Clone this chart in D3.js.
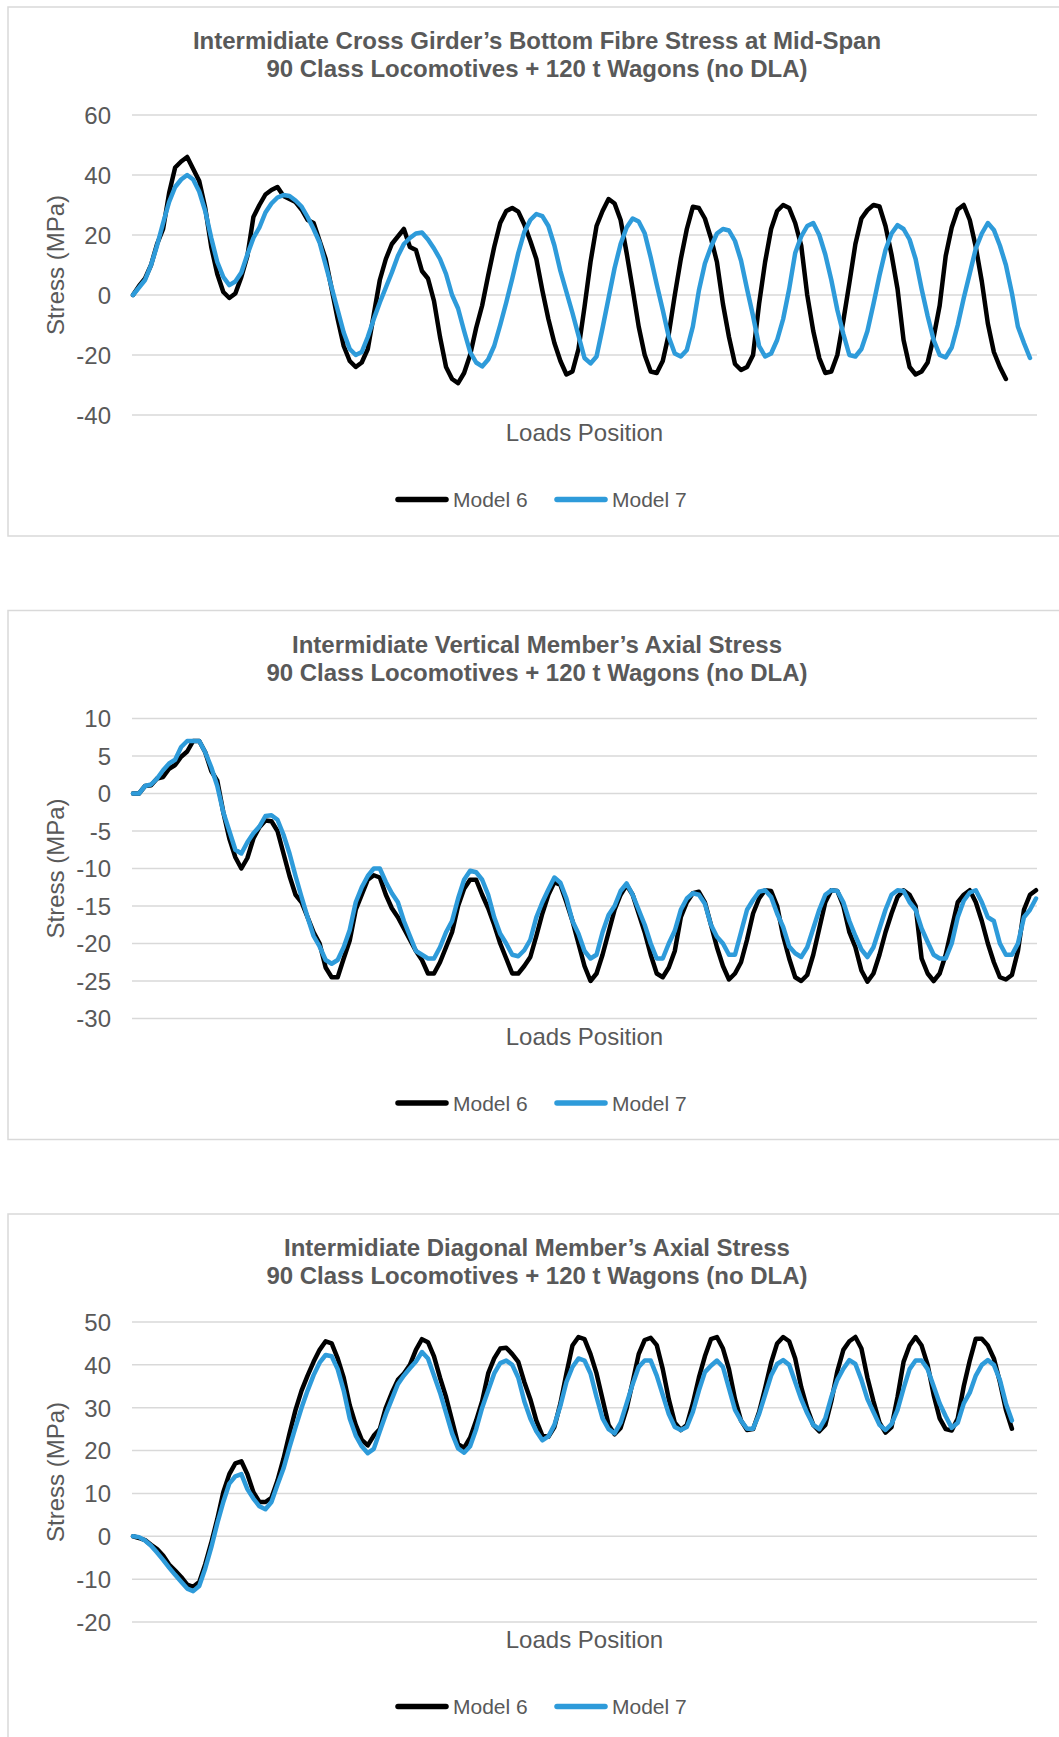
<!DOCTYPE html>
<html>
<head>
<meta charset="utf-8">
<script src="https://cdn.jsdelivr.net/npm/d3@7"></script>
<style>
  html, body { margin: 0; padding: 0; background: #ffffff; }
  svg { display: block; }
  text { font-family: "Liberation Sans", Arial, sans-serif; fill: #595959; }
</style>
</head>
<body>
<svg id="chart" width="1059" height="1737"></svg>
<script>
// ---------------- DATA ----------------
const seriesNames = ["Model 6", "Model 7"];
const xAxisTitle = "Loads Position";
const yAxisTitle = "Stress (MPa)";
const subtitle = "90 Class Locomotives + 120 t Wagons (no DLA)";
const chartTitles = [
  "Intermidiate Cross Girder\u2019s Bottom Fibre Stress at Mid-Span",
  "Intermidiate Vertical Member\u2019s Axial Stress",
  "Intermidiate Diagonal Member\u2019s Axial Stress"
];
const loadPositionCount = 150;

const yTicksGirder = [60, 40, 20, 0, -20, -40];
const yTicksVertical = [10, 5, 0, -5, -10, -15, -20, -25, -30];
const yTicksDiagonal = [50, 40, 30, 20, 10, 0, -10, -20];

// Chart 1 : cross girder bottom fibre stress (MPa)
const girderModel6 = [
  0, 3, 5.5, 10, 17, 22, 34, 42.5, 44.5, 46,
  42, 38, 29, 16, 7, 1, -1, 0.5, 6, 13,
  26, 30, 33.5, 35, 36, 33, 32, 31, 28.5, 25,
  24, 18, 12, 2, -8, -17, -22, -24, -22.5, -18,
  -6.5, 5, 12, 17, 19.5, 22, 16, 15, 8, 5.5,
  -2, -14, -24, -28, -29.4, -26, -20, -11, -3.5, 6.5,
  16, 24, 28, 29, 27.8, 23.5, 18, 12, 1.5, -8,
  -16, -22, -26.5, -25.5, -18, -4, 11, 23, 28, 32,
  30.5, 25, 14, 2, -10.5, -20, -25.5, -26, -22, -13,
  0, 12, 22, 29.4, 29, 25.5, 19, 11, -3, -14,
  -23, -25, -24, -20, -3, 11, 22, 28, 30, 29,
  24, 16.5, 0, -12, -21, -26, -25.5, -20, -8.5, 4,
  17, 25.5, 28.3, 30, 29.5, 23, 13.5, 2, -15, -24,
  -26.5, -25.5, -22.5, -14, -3.5, 13, 22.5, 28.5, 30, 25,
  16, 4.5, -9.5, -19, -24, -28
];
const girderModel7 = [
  0, 2.5, 5, 10, 16.5, 24, 31, 36, 38.5, 40,
  38.5, 34.5, 28, 19, 11, 6, 3.3, 4.5, 7.5, 13.5,
  19, 22.5, 27.5, 30.5, 32.5, 33.3, 33, 31.5, 29.5, 26,
  22, 17.5, 10, 2.5, -5, -12.5, -18, -20, -19, -14,
  -8, -2.5, 2.5, 7.5, 13, 17, 19, 20.5, 20.8, 18.5,
  15.5, 12, 7, 0, -4.5, -12, -19, -22.5, -23.8, -21.5,
  -17, -10, -2.5, 5.5, 14, 21, 25, 27, 26.3, 23,
  16.5, 8, 1, -6, -13.5, -21, -22.8, -20.5, -11, -1,
  9, 17, 22.5, 25.5, 24.5, 20.6, 12.5, 3.5, -5, -14,
  -19.5, -20.5, -18.3, -10.5, 1.5, 10.5, 16, 20.5, 22, 21.5,
  18, 11.5, 2, -7, -17, -20.5, -19.5, -15, -8, 2,
  14, 19.5, 23, 24, 20, 13.5, 5, -5, -13, -20,
  -20.5, -18, -12, -3, 6.5, 15, 20.5, 23.3, 22, 18.5,
  12, 2, -7, -15, -20, -20.8, -17.5, -10, -1, 7.2,
  15.5, 20.5, 24, 21.7, 16.5, 10, 0.6, -10.6, -16, -21
];

// Chart 2 : vertical member axial stress (MPa)
const verticalModel6 = [
  0, 0, 1, 1.1, 2, 2.2, 3.3, 3.8, 4.9, 5.6,
  7, 7, 5.5, 3, 1.7, -2.5, -6, -8.5, -10, -8.6,
  -6, -4.5, -3.6, -3.7, -5, -8, -11, -13.5, -14.5, -16.5,
  -18.5, -20, -23.2, -24.5, -24.5, -22, -19.6, -15.5, -13.5, -11.5,
  -10.9, -11.2, -13.5, -15.3, -16.5, -18, -19.5, -21, -22.2, -24,
  -24, -22.5, -20.5, -18.5, -15, -12.7, -11.5, -11.5, -13.5, -15.3,
  -17.5, -20, -22, -24, -24, -23, -21.8, -19, -16, -13.5,
  -11.8, -12.2, -14.5, -17, -20, -23, -25, -24, -21.5, -18.5,
  -15.5, -13.5, -12.2, -13.5, -16, -18.5, -21.5, -24, -24.5, -23.2,
  -21, -16.5, -14.5, -13.3, -13.1, -14.5, -17.5, -20.5, -23, -24.8,
  -24, -22.5, -19.5, -16, -14, -12.9, -13, -15, -19, -22,
  -24.5, -25, -24.2, -21.5, -18, -14.5, -12.9, -13, -15, -18.5,
  -20.5, -23.6, -25.1, -24, -21.5, -18.5, -16, -13.8, -12.9, -13.5,
  -15, -22, -24, -25, -24, -21.5, -18, -14.5, -13.5, -12.9,
  -14.5, -17, -20, -22.5, -24.5, -24.8, -24.2, -21, -15.5, -13.5,
  -12.9
];
const verticalModel7 = [
  0, 0, 1, 1.2, 2, 3.1, 4, 4.5, 6.2, 7,
  7, 7, 5.5, 3.5, 1, -2.5, -5, -7.5, -8, -6.5,
  -5.3, -4.4, -3, -2.9, -3.5, -5.5, -8, -11, -13.8, -16.5,
  -19, -20.4, -22.2, -22.7, -22.2, -20.5, -18.2, -14.5, -12.5, -11,
  -10, -10, -11.8, -13.3, -14.5, -17, -19, -21, -21.5, -22,
  -22, -20.5, -18.5, -17, -14, -11.5, -10.3, -10.5, -11.5, -13.5,
  -16.5, -18.7, -20, -21.5, -21.7, -20.9, -19.5, -16.5, -14.5, -12.8,
  -11.2, -11.9, -14, -17, -18.7, -21, -22, -21.5, -18.5, -16.2,
  -15, -13, -12, -13.5, -15.5, -17.5, -20, -22, -22, -20,
  -18.3, -15.5, -14, -13.3, -13.5, -14.7, -17.5, -19.1, -20, -21.5,
  -21.5, -18.5, -15.5, -14.2, -13.1, -12.9, -13.8, -16, -17.8, -20.4,
  -21.3, -21.8, -20.5, -18, -15.5, -13.5, -12.9, -13, -14.5, -17,
  -19, -20.8, -21.8, -20.5, -18, -15.5, -13.5, -12.9, -13, -14.5,
  -15.5, -18, -19.8, -21.5, -22, -22, -20, -16.5, -14.3, -13.2,
  -12.9, -14.5, -16.5, -17, -20, -21.5, -21.5, -20, -16.5, -15.5,
  -14
];

// Chart 3 : diagonal member axial stress (MPa)
const diagonalModel6 = [
  0, -0.4, -0.9, -2, -3, -4.5, -6.6, -8, -9.5, -11.3,
  -11.8, -10.7, -6.5, -1.5, 4, 10.3, 14.5, 17, 17.5, 14.5,
  10.3, 8, 8, 9, 13, 18.1, 24, 29.5, 34, 37.5,
  40.7, 43.5, 45.5, 45, 41.5, 37, 30.6, 26, 22.5, 21.2,
  23.5, 25, 30, 33.5, 36.5, 38, 40, 43.5, 46, 45.3,
  42, 37, 32.5, 27, 21.5, 20.6, 23, 27, 31.5, 38,
  41.5, 43.8, 44, 42.5, 40.7, 36, 32, 27, 23.5, 23.2,
  25.5, 31, 38, 44.5, 46.5, 46, 42.5, 38, 32, 26,
  23.8, 25.3, 29.8, 36, 42.5, 45.8, 46.3, 44.6, 39, 32,
  26.5, 24.8, 26, 31, 37, 42, 46, 46.5, 43.8, 39,
  32, 27, 24.8, 25, 29, 34.5, 40.5, 45, 46.5, 45.5,
  41.5, 34.8, 29.8, 26, 24.5, 26, 31.5, 38.5, 43.5, 45.5,
  46.5, 43.8, 37, 31.5, 26.5, 24.2, 25.5, 32.5, 40.7, 44.5,
  46.5, 44.5, 40, 33, 27.5, 25, 24.7, 27.5, 35, 41,
  46.1, 46.1, 44.5, 41.5, 36, 29.5, 25.1
];
const diagonalModel7 = [
  0, -0.2, -1, -2.2, -3.8, -5.5, -7.3, -9, -10.6, -12.2,
  -12.8, -11.6, -7.5, -2.6, 3, 8, 12.3, 14, 14.5, 11,
  8.8, 7, 6.3, 8, 12, 15.8, 20.8, 25.5, 30, 34,
  37.6, 40.5, 42.3, 42, 39, 34, 27.5, 23.5, 21, 19.4,
  20.4, 24.5, 28.5, 32, 35.5, 37.5, 39.2, 40.8, 43, 41.5,
  37.5, 33.5, 28.8, 24, 20.5, 19.5, 21, 25, 30, 34,
  38, 40.4, 41, 40, 37, 31.5, 27.5, 24.5, 22.4, 23.3,
  26, 30.5, 36, 39.5, 41.5, 41, 38, 32.5, 27.5, 25,
  24, 26.5, 31, 35.5, 39.5, 41, 41, 37.5, 33, 28.5,
  25.5, 24.8, 25.5, 29, 34, 38.3, 39.8, 41, 39.5, 34.5,
  29.5, 27, 25.1, 25.1, 28.5, 33, 37.5, 40.2, 41.1, 40,
  36, 32, 28.7, 26, 25, 27.5, 32.5, 36.5, 39.1, 41.1,
  40.2, 36.5, 32, 29, 26, 24.8, 26.2, 29.5, 34.5, 39,
  41, 41, 39, 35, 31, 28, 25.3, 26.5, 31, 33.5,
  37.5, 40, 41.1, 40, 36.5, 31, 27
];

// ---------------- STYLE / LAYOUT ----------------
const W = 1059, H = 1737;
const colors = ["#000000", "#2E9BDA"];
const textColor = "#595959";
const gridColor = "#d9d9d9";
const boxLeft = 8, boxWidth = 1058, boxHeight = 529, boxPitch = 603.5, boxTop0 = 7;
const plotLeft = 132, plotRight = 1037;
const plotTopOff = 108, plotBottomOff = 408;

const charts = [
  { title: chartTitles[0], ticks: yTicksGirder, series: [girderModel6, girderModel7] },
  { title: chartTitles[1], ticks: yTicksVertical, series: [verticalModel6, verticalModel7] },
  { title: chartTitles[2], ticks: yTicksDiagonal, series: [diagonalModel6, diagonalModel7] }
];

const svg = d3.select("#chart");
svg.append("rect").attr("width", W).attr("height", H).attr("fill", "#ffffff");

const x = d3.scaleLinear().domain([0, loadPositionCount]).range([133, 1036]);

charts.forEach((c, k) => {
  const T = boxTop0 + boxPitch * k;
  const g = svg.append("g");

  g.append("rect")
    .attr("x", boxLeft).attr("y", T)
    .attr("width", boxWidth).attr("height", boxHeight)
    .attr("fill", "#ffffff").attr("stroke", gridColor).attr("stroke-width", 1.5);

  const y = d3.scaleLinear()
    .domain([d3.min(c.ticks), d3.max(c.ticks)])
    .range([T + plotBottomOff, T + plotTopOff]);

  // gridlines
  g.append("g").selectAll("line").data(c.ticks).join("line")
    .attr("x1", plotLeft).attr("x2", plotRight)
    .attr("y1", d => y(d)).attr("y2", d => y(d))
    .attr("stroke", gridColor).attr("stroke-width", 1.5);

  // y axis tick labels via d3 axis (plain hyphen minus, as in the original)
  const yAxis = d3.axisLeft(y).tickValues(c.ticks).tickSize(0).tickPadding(0).tickFormat(d => String(d));
  const ax = g.append("g").attr("transform", `translate(${111},0)`).call(yAxis);
  ax.select(".domain").remove();
  ax.selectAll("text")
    .attr("font-family", '"Liberation Sans", Arial, sans-serif')
    .attr("font-size", 24).attr("fill", textColor)
    .attr("x", 0).attr("dy", "0.35em");

  // titles
  g.append("text").attr("x", boxLeft + boxWidth / 2).attr("y", T + 42)
    .attr("text-anchor", "middle").attr("font-size", 24).attr("font-weight", "bold")
    .text(c.title);
  g.append("text").attr("x", boxLeft + boxWidth / 2).attr("y", T + 70)
    .attr("text-anchor", "middle").attr("font-size", 24).attr("font-weight", "bold")
    .text(subtitle);

  // axis titles
  g.append("text").attr("x", (plotLeft + plotRight) / 2).attr("y", T + 434)
    .attr("text-anchor", "middle").attr("font-size", 24).text(xAxisTitle);
  const yc = (y.range()[0] + y.range()[1]) / 2;
  g.append("text").attr("transform", `translate(64,${yc}) rotate(-90)`)
    .attr("text-anchor", "middle").attr("font-size", 24).text(yAxisTitle);

  // series lines
  const line = d3.line().x((d, i) => x(i)).y(d => y(d)).curve(d3.curveLinear);
  c.series.forEach((s, si) => {
    g.append("path").datum(s)
      .attr("d", line)
      .attr("fill", "none").attr("stroke", colors[si])
      .attr("stroke-width", 4.5).attr("stroke-linejoin", "round").attr("stroke-linecap", "round");
  });

  // legend
  const legY = T + 492.5;
  const legItems = [{ x0: 395, tx: 453 }, { x0: 554, tx: 612 }];
  legItems.forEach((li, si) => {
    g.append("line").attr("x1", li.x0 + 3).attr("x2", li.x0 + 51)
      .attr("y1", legY).attr("y2", legY)
      .attr("stroke", colors[si]).attr("stroke-width", 5.5).attr("stroke-linecap", "round");
    g.append("text").attr("x", li.tx).attr("y", legY + 7.5)
      .attr("font-size", 21).text(seriesNames[si]);
  });
});
</script>
</body>
</html>
